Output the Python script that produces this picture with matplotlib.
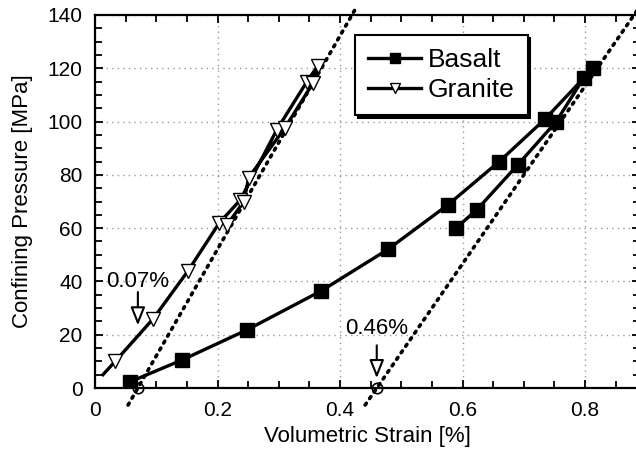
import matplotlib
matplotlib.use("Agg")
import matplotlib.pyplot as plt
from matplotlib.ticker import MultipleLocator

plt.rcParams['font.family'] = ['Liberation Sans', 'DejaVu Sans']

# Basalt: loading then unloading
basalt_strain = [0.057, 0.142, 0.248, 0.369, 0.478, 0.576, 0.660, 0.735, 0.813,
                 0.798, 0.753, 0.690, 0.623, 0.589]
basalt_pressure = [2.3, 10.5, 21.8, 36.4, 52.0, 68.7, 85.0, 101.0, 120.0,
                   116.4, 100.0, 83.7, 66.8, 60.0]

# Granite: loading then unloading (first point drawn without marker)
granite_strain = [0.013, 0.033, 0.095, 0.152, 0.203, 0.237, 0.297, 0.346, 0.364,
                  0.356, 0.310, 0.251, 0.243, 0.215]
granite_pressure = [5.0, 10.0, 26.0, 44.0, 62.0, 70.5, 97.0, 115.0, 121.0,
                    114.5, 97.6, 79.0, 70.0, 61.0]

# Tangent (dotted) lines
granite_tangent_x = [0.054, 0.427]
granite_tangent_y = [-6.4, 143.0]
basalt_tangent_x = [0.441, 0.895]
basalt_tangent_y = [-6.4, 145.0]

# Intercepts
intercept_x = [0.07, 0.46]
intercept_y = [0.0, 0.0]
intercept_labels = ["0.07%", "0.46%"]
label_y = [40.0, 22.5]
arrow_start_y = [36.0, 16.0]
arrow_end_y = [23.5, 3.7]

xticks = [0, 0.2, 0.4, 0.6, 0.8]
xticklabels = ["0", "0.2", "0.4", "0.6", "0.8"]
yticks = [0, 20, 40, 60, 80, 100, 120, 140]

W, H = 636, 454
fig = plt.figure(figsize=(W / 100, H / 100), dpi=100)
xmax = 0.89
ax_left, ax_right, ax_top, ax_bot = 95, 95 + xmax * 612.5, 15, 388
ax = fig.add_axes([ax_left / W, (H - ax_bot) / H, (ax_right - ax_left) / W, (ax_bot - ax_top) / H])

ax.set_xlim(0, xmax)
ax.set_ylim(0, 140)

ax.grid(True, which='major', color='#999999', linestyle=(0, (1, 3)), linewidth=1.0)
ax.set_axisbelow(True)

ax.plot(granite_tangent_x, granite_tangent_y, color='black', linestyle=(0, (0.6, 1.6)),
        linewidth=2.6, dash_capstyle='round', clip_on=False, zorder=3)
ax.plot(basalt_tangent_x, basalt_tangent_y, color='black', linestyle=(0, (0.6, 1.6)),
        linewidth=2.6, dash_capstyle='round', clip_on=False, zorder=3)

ax.plot(basalt_strain, basalt_pressure, color='black', linewidth=2.4, marker='s',
        markersize=9.5, markerfacecolor='black', markeredgecolor='black',
        label='Basalt', zorder=4)
ax.plot(granite_strain, granite_pressure, color='black', linewidth=2.4, marker='v',
        markersize=10.5, markerfacecolor='white', markeredgecolor='black',
        markeredgewidth=1.0, markevery=list(range(1, len(granite_strain))),
        label='Granite', zorder=5)

ax.plot(intercept_x, intercept_y, linestyle='none', marker='o', markersize=7.5,
        markerfacecolor='none', markeredgecolor='black', markeredgewidth=1.2,
        clip_on=False, zorder=6)

for x, lab, ly, ys, ye in zip(intercept_x, intercept_labels, label_y, arrow_start_y, arrow_end_y):
    ax.text(x, ly, lab, ha='center', va='center', fontsize=16, zorder=7)
    ax.annotate('', xy=(x, ye), xytext=(x, ys),
                arrowprops=dict(arrowstyle='-|>,head_length=1.0,head_width=0.4',
                                facecolor='white', edgecolor='black', linewidth=1.5,
                                shrinkA=0, shrinkB=0, mutation_scale=11), zorder=7)

ax.set_xticks(xticks)
ax.set_xticklabels(xticklabels)
ax.set_yticks(yticks)
ax.xaxis.set_minor_locator(MultipleLocator(0.05))
ax.yaxis.set_minor_locator(MultipleLocator(5))
ax.tick_params(which='both', direction='in', top=True, right=True, width=1.3, colors='black')
ax.tick_params(which='major', length=6, labelsize=15, pad=9)
ax.tick_params(which='minor', length=5)
for s in ax.spines.values():
    s.set_linewidth(1.6)

ax.set_xlabel('Volumetric Strain [%]', fontsize=16, labelpad=5)
ax.set_ylabel('Confining Pressure [MPa]', fontsize=16, labelpad=10)

leg = ax.legend(loc='upper left', bbox_to_anchor=((355 - ax_left) / (ax_right - ax_left), (ax_bot - 35) / (ax_bot - ax_top)),
                borderaxespad=0, fontsize=19, frameon=True, fancybox=False, shadow={'color': 'black', 'alpha': 1.0},
                handlelength=2.0, handletextpad=0.25, borderpad=0.5, labelspacing=0.22, markerscale=0.75)
leg.get_frame().set_edgecolor('black')
leg.get_frame().set_linewidth(1.5)

fig.savefig('out.png', dpi=100)
